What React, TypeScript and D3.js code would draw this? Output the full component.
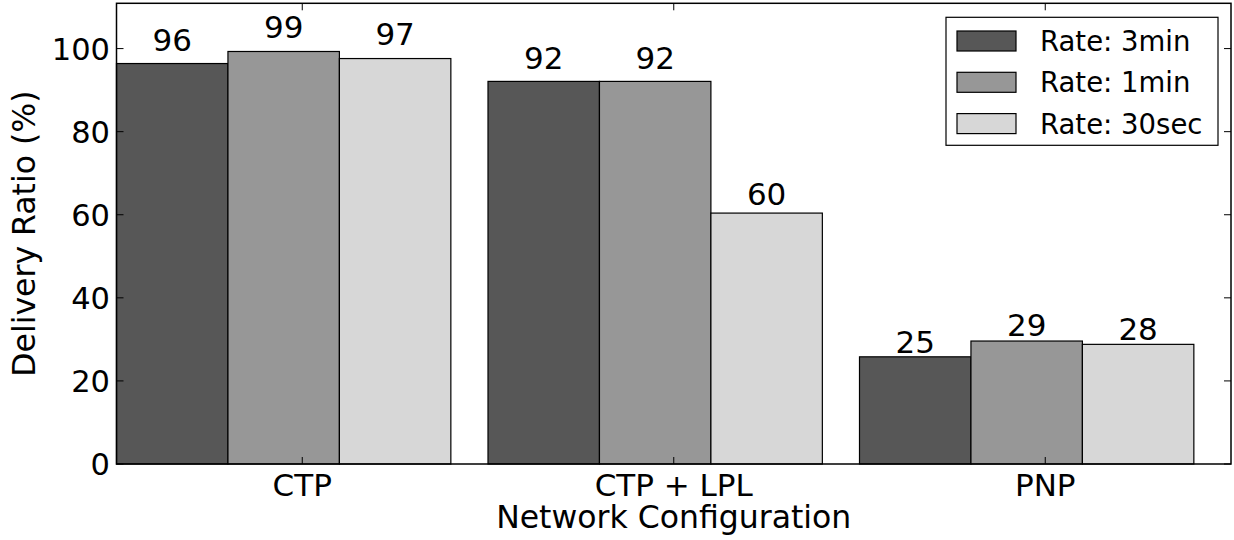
import React from "react";
import * as d3 from "d3";

const categories = ["CTP", "CTP + LPL", "PNP"];
const seriesNames = ["Rate: 3min", "Rate: 1min", "Rate: 30sec"];
const rate3min = [96.4, 92.1, 25.8];
const rate1min = [99.3, 92.1, 29.6];
const rate30sec = [97.6, 60.4, 28.8];
const yTicks = [0, 20, 40, 60, 80, 100];
const colors = ["#575757", "#979797", "#d7d7d7"];

const W = 1234;
const H = 540;
const FONT = "'DejaVu Sans', 'Bitstream Vera Sans', sans-serif";

export default function App() {
  const series = [rate3min, rate1min, rate30sec];
  const left = 116.5, right = 1231, top = 3.3, bottom = 464;
  const x = d3.scaleLinear().domain([0, 3]).range([left, right]);
  const y = d3.scaleLinear().domain([0, 110.9]).range([bottom, top]);
  const barW = 0.3;
  const tickLen = 7;

  return (
    <svg width={W} height={H} style={{ position: "absolute", left: 0, top: 0, background: "#fff" }}
      fontFamily={FONT}>
      <rect x={0} y={0} width={W} height={H} fill="#fff" />
      {/* bars */}
      {series.map((vals, s) =>
        vals.map((v, i) => {
          const x0 = x(i + s * barW);
          const x1 = x(i + (s + 1) * barW);
          return (
            <g key={`b${s}-${i}`}>
              <rect x={x0} y={y(v)} width={x1 - x0} height={y(0) - y(v)}
                fill={colors[s]} stroke="#000" strokeWidth={1.2} />
              <text x={(x0 + x1) / 2} y={y(v * 1.03) - 1} textAnchor="middle"
                fontSize={31} fill="#000">{Math.floor(v)}</text>
            </g>
          );
        })
      )}
      {/* y ticks */}
      {yTicks.map((t) => (
        <g key={`y${t}`}>
          <line x1={left} x2={left + tickLen} y1={y(t)} y2={y(t)} stroke="#000" strokeWidth={1} />
          <line x1={right} x2={right - tickLen} y1={y(t)} y2={y(t)} stroke="#000" strokeWidth={1} />
          <text x={110} y={y(t)} dy="0.36em" textAnchor="end" fontSize={30.5} fill="#000">{t}</text>
        </g>
      ))}
      {/* x ticks */}
      {categories.map((c, i) => (
        <g key={`x${i}`}>
          <line x1={x(i + 0.5)} x2={x(i + 0.5)} y1={bottom} y2={bottom - tickLen} stroke="#000" strokeWidth={1} />
          <line x1={x(i + 0.5)} x2={x(i + 0.5)} y1={top} y2={top + tickLen} stroke="#000" strokeWidth={1} />
          <text x={x(i + 0.5)} y={496} textAnchor="middle" fontSize={31} fill="#000">{c}</text>
        </g>
      ))}
      {/* frame */}
      <rect x={left} y={top} width={right - left} height={bottom - top} fill="none" stroke="#000" strokeWidth={1.5} />
      {/* axis labels */}
      <text x={(left + right) / 2} y={528} textAnchor="middle" fontSize={31.5} fill="#000">Network Configuration</text>
      <text transform={`translate(35,${(top + bottom) / 2}) rotate(-90)`} textAnchor="middle" fontSize={31.5} fill="#000">Delivery Ratio (%)</text>
      {/* legend */}
      <rect x={946} y={17.3} width={272} height={128} fill="#fff" stroke="#000" strokeWidth={1.2} />
      {seriesNames.map((n, s) => {
        const cy = 41 + s * 41.3;
        return (
          <g key={`l${s}`}>
            <rect x={957} y={cy - 10} width={59} height={20} fill={colors[s]} stroke="#000" strokeWidth={1.2} />
            <text x={1040} y={cy} dy="0.36em" fontSize={27.5} fill="#000">{n}</text>
          </g>
        );
      })}
    </svg>
  );
}
